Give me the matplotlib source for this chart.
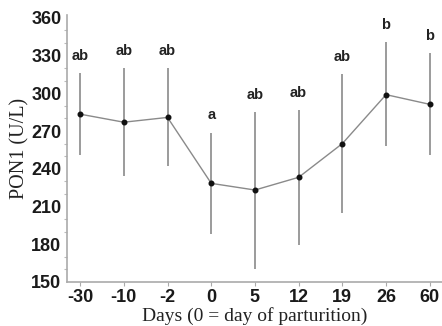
import matplotlib.pyplot as plt
import numpy as np
from matplotlib.ticker import MultipleLocator

days = ['-30', '-10', '-2', '0', '5', '12', '19', '26', '60']
pon1 = [283.4, 277.0, 280.8, 228.4, 223.1, 233.2, 260.0, 298.9, 291.2]
upper = [316.0, 320.0, 320.0, 268.8, 284.8, 286.6, 315.4, 340.5, 332.0]
lower = [250.6, 234.6, 241.8, 188.4, 160.7, 179.4, 205.2, 258.0, 250.6]
letters = ['ab', 'ab', 'ab', 'a', 'ab', 'ab', 'ab', 'b', 'b']

x = np.arange(len(days))
mean = np.array(pon1)
yerr = [mean - np.array(lower), np.array(upper) - mean]

fig = plt.figure(figsize=(4.42, 3.26), dpi=100)
ax = fig.add_axes([67/442, 1 - 282/326, 375/442, 268/326])

grey = '#8a8a8a'
ax.errorbar(x, mean, yerr=yerr, fmt='none', ecolor=grey, elinewidth=1.2, capsize=0)
ax.plot(x, mean, color=grey, lw=1)
ax.plot(x, mean, 'o', color='#111111', ms=3.3)

# significance letters above each bar
for xi, top, lab in zip(x, upper, letters):
    ax.annotate(lab, (xi, top), xytext=(0, 12.5), textcoords='offset points',
                ha='center', va='center', fontsize=10.5, fontweight='bold',
                family='Liberation Sans', color='#222222')

ax.set_xlim(-0.3, 8.28)
ax.set_ylim(150, 363)
ax.set_yticks(np.arange(150, 361, 30))
ax.yaxis.set_minor_locator(MultipleLocator(10))
ax.set_xticks(x)
ax.set_xticklabels(days)

for s in ['top', 'right']:
    ax.spines[s].set_visible(False)
for s in ['left', 'bottom']:
    ax.spines[s].set_color('#aaaaaa')
    ax.spines[s].set_linewidth(1.2)
ax.spines['left'].set_bounds(150, 362)

ax.tick_params(axis='both', colors='#aaaaaa', labelcolor='#1a1a1a', length=3, width=0.8)
ax.tick_params(axis='y', which='major', length=0, pad=4)
ax.tick_params(axis='y', which='minor', length=2.5, width=0.8, colors='#bbbbbb')
ax.tick_params(axis='x', pad=2)
for lab in ax.get_xticklabels() + ax.get_yticklabels():
    lab.set_fontsize(13)
    lab.set_fontweight('bold')
    lab.set_family('Liberation Sans')

ax.set_xlabel('Days (0 = day of parturition)', family='Liberation Serif',
              fontsize=14, labelpad=1, color='#222222')
ax.set_ylabel('PON1 (U/L)', family='Liberation Serif', fontsize=14.5,
              labelpad=1, color='#222222')

fig.savefig('out.png', dpi=100)
